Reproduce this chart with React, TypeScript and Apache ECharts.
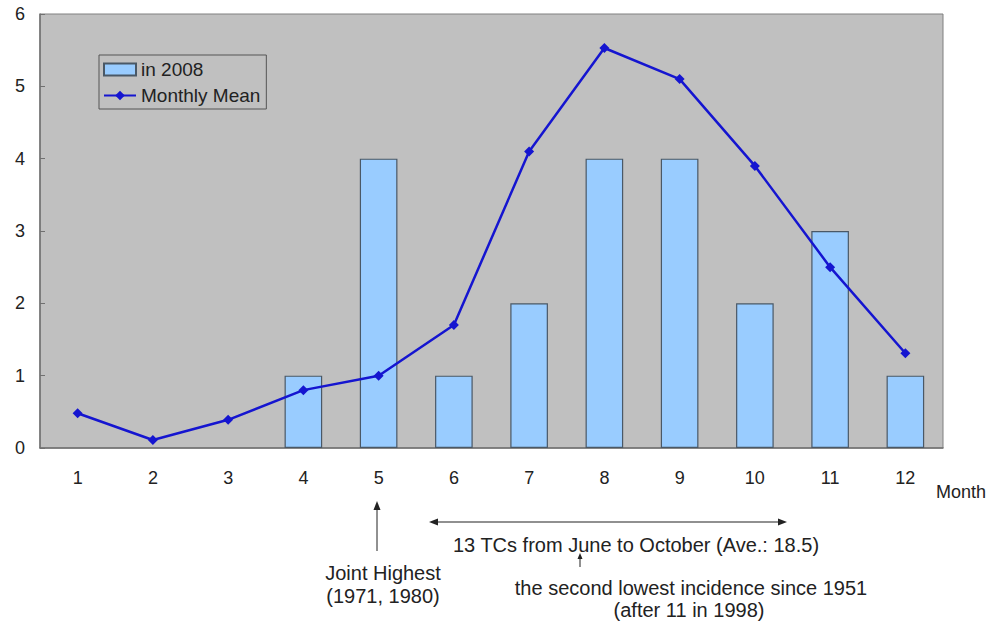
import React, { useEffect, useRef } from "react";
import * as echarts from "echarts";

const months = ["1", "2", "3", "4", "5", "6", "7", "8", "9", "10", "11", "12"];
const tcs2008 = [0, 0, 0, 1, 4, 1, 2, 4, 4, 2, 3, 1];
const monthlyMean = [0.48, 0.11, 0.39, 0.8, 1.0, 1.7, 4.1, 5.53, 5.1, 3.9, 2.5, 1.31];
const yTicks = [0, 1, 2, 3, 4, 5, 6];

const FONT = "'Liberation Sans', Arial, sans-serif";
const TXT = "#222";

export default function App() {
  const ref = useRef<HTMLDivElement>(null);
  useEffect(() => {
    if (!ref.current) return;
    const chart = echarts.init(ref.current, undefined, { renderer: "svg" });
    const txt = (x: number, y: number, t: string, size = 20) => ({
      type: "text",
      x,
      y,
      style: { text: t, font: `${size}px ${FONT}`, fill: TXT, align: "center", verticalAlign: "middle" },
      silent: true,
    });
    chart.setOption({
      animation: false,
      grid: {
        left: 40,
        right: 48,
        top: 14,
        bottom: 176,
        show: true,
        backgroundColor: "#c0c0c0",
        borderColor: "#808080",
        borderWidth: 1,
      },
      legend: {
        orient: "vertical",
        left: 99,
        top: 55,
        padding: [5, 6, 4, 4],
        itemGap: 7,
        itemWidth: 32,
        itemHeight: 12,
        backgroundColor: "#c0c0c0",
        borderColor: "#555",
        borderWidth: 1,
        textStyle: { fontFamily: FONT, fontSize: 19, color: TXT },
        data: [
          { name: "in 2008", icon: "rect" },
          { name: "Monthly Mean" },
        ],
      },
      xAxis: {
        type: "category",
        data: months,
        axisLine: { lineStyle: { color: "#707070", width: 1.5 } },
        axisTick: { inside: true, length: 5, lineStyle: { color: "#707070" } },
        axisLabel: { fontFamily: FONT, fontSize: 18, color: TXT, margin: 21 },
        splitLine: { show: false },
      },
      yAxis: {
        type: "value",
        min: yTicks[0],
        max: yTicks[yTicks.length - 1],
        interval: 1,
        axisLine: { show: true, lineStyle: { color: "#707070", width: 1.5 } },
        axisTick: { show: true, inside: true, length: 5, lineStyle: { color: "#707070" } },
        axisLabel: { fontFamily: FONT, fontSize: 18, color: TXT, margin: 15 },
        splitLine: { show: false },
      },
      series: [
        {
          name: "in 2008",
          type: "bar",
          data: tcs2008.map((v) => (v === 0 ? "-" : v)),
          barWidth: "50%",
          itemStyle: { color: "#99ccff", borderColor: "#4a5866", borderWidth: 1.2 },
        },
        {
          name: "Monthly Mean",
          type: "line",
          data: monthlyMean,
          symbol: "diamond",
          symbolSize: 10,
          lineStyle: { color: "#1515d0", width: 2.5 },
          itemStyle: { color: "#1515d0" },
          z: 5,
        },
      ],
      graphic: [
        txt(961, 492, "Month", 18),
        { type: "line", shape: { x1: 377, y1: 508, x2: 377, y2: 551 }, style: { stroke: "#222", lineWidth: 1 } },
        { type: "polygon", shape: { points: [[377, 501], [373.5, 510], [380.5, 510]] }, style: { fill: "#222" } },
        txt(383, 573, "Joint Highest"),
        txt(383, 596, "(1971, 1980)"),
        { type: "line", shape: { x1: 436, y1: 522, x2: 780, y2: 522 }, style: { stroke: "#222", lineWidth: 1.2 } },
        { type: "polygon", shape: { points: [[429, 522], [438, 518.5], [438, 525.5]] }, style: { fill: "#222" } },
        { type: "polygon", shape: { points: [[787, 522], [778, 518.5], [778, 525.5]] }, style: { fill: "#222" } },
        txt(636, 545, "13 TCs from June to October (Ave.: 18.5)"),
        { type: "line", shape: { x1: 580, y1: 558, x2: 580, y2: 567 }, style: { stroke: "#222", lineWidth: 1 } },
        { type: "polygon", shape: { points: [[580, 553], [577.5, 559], [582.5, 559]] }, style: { fill: "#222" } },
        txt(691, 588, "the second lowest incidence since 1951"),
        txt(689, 610, "(after 11 in 1998)"),
      ],
    });
    return () => chart.dispose();
  }, []);
  return (
    <div
      ref={ref}
      style={{ position: "absolute", left: 0, top: 0, width: 991, height: 624 }}
    />
  );
}
